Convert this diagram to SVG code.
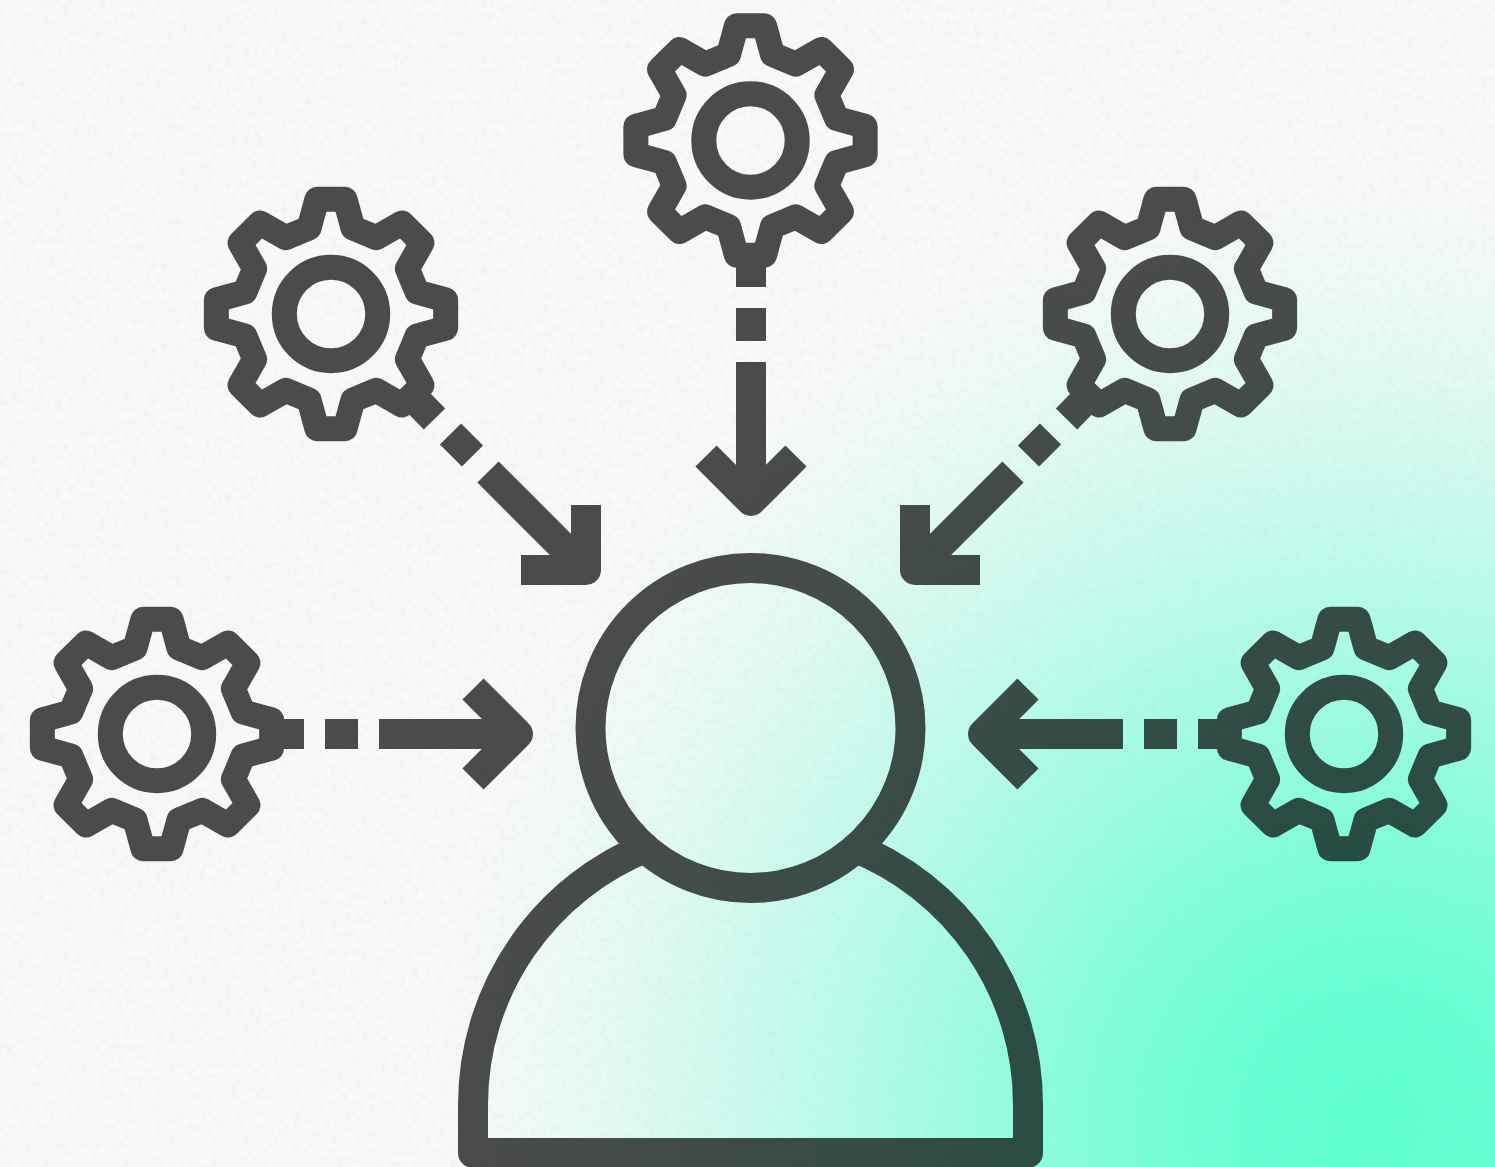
<svg xmlns="http://www.w3.org/2000/svg" width="1495" height="1167" viewBox="0 0 1495 1167">
<style>
.ink{fill:none;stroke:#000;stroke-width:25;stroke-linejoin:round}
.bar{fill:none;stroke:#000;stroke-width:30;stroke-linejoin:round}
</style>
<defs>
<radialGradient id="bg" gradientUnits="userSpaceOnUse" cx="1375" cy="1125" r="950">
<stop offset="0" stop-color="#5bffcf"/>
<stop offset=".12" stop-color="#62ffd2"/>
<stop offset=".3" stop-color="#80fdda"/>
<stop offset=".45" stop-color="#a0fce2"/>
<stop offset=".65" stop-color="#c8faed"/>
<stop offset=".8" stop-color="#e2faf3"/>
<stop offset=".93" stop-color="#f3f9f7"/>
<stop offset="1" stop-color="#f9f9f9"/>
</radialGradient>
<filter id="grain" x="0" y="0" width="100%" height="100%">
<feTurbulence type="fractalNoise" baseFrequency=".16" numOctaves="3" seed="7"/>
<feColorMatrix type="matrix" values="0 0 0 0 .6  0 0 0 0 .6  0 0 0 0 .6  1.1 0 0 0 -.47"/>
</filter>
<g id="gear">
<path class="ink" d="M-14.080-114.640L14.080-114.640 21.930-86.050 45.330-76.360 71.110-91.020 91.020-71.110 76.360-45.330 86.050-21.930 114.640-14.080 114.640 14.080 86.050 21.930 76.360 45.330 91.020 71.110 71.110 91.020 45.330 76.360 21.930 86.050 14.080 114.640-14.080 114.640-21.930 86.050-45.330 76.360-71.110 91.020-91.020 71.110-76.360 45.330-86.050 21.930-114.640 14.080-114.640-14.080-86.050-21.930-76.360-45.330-91.020-71.110-71.110-91.020-45.330-76.360-21.930-86.050Z"/>
<circle class="ink" cx="0" cy="0" r="46.700"/>
</g>
</defs>
<rect id="background" width="1495" height="1167" fill="url(#bg)"/>
<rect id="grain-layer" width="1495" height="1167" filter="url(#grain)" opacity=".3"/>
<g id="artwork" opacity=".7">
<g id="connectors">
<g id="arrow-top">
<path class="bar" d="M751 265V287M751 308V341M751 362V495"/>
<path class="bar" d="M706 456L751 501L796 456"/>
</g>
<g id="arrow-top-left">
<path class="bar" d="M412 396L434.500 419M450.500 434L472.500 456M488 472L575 559"/>
<path class="bar" d="M586 505V570H521"/>
</g>
<g id="arrow-top-right">
<path class="bar" d="M1089 396L1066.500 419M1050.500 434L1028.500 456M1013 472L926 559"/>
<path class="bar" d="M915 505V570H980"/>
</g>
<g id="arrow-left">
<path class="bar" d="M284 734H304M325 734H358M379 734H512"/>
<path class="bar" d="M473 689L518 734L473 779"/>
</g>
<g id="arrow-right">
<path class="bar" d="M1218 734H1198M1177 734H1144M1123 734H989"/>
<path class="bar" d="M1028 689L983 734L1028 779"/>
</g>
</g>
<g id="gear-top"><use href="#gear" x="750.500" y="140.500"/></g>
<g id="gear-top-left"><use href="#gear" x="331" y="314"/></g>
<g id="gear-top-right"><use href="#gear" x="1170" y="314"/></g>
<g id="gear-left"><use href="#gear" x="157" y="734"/></g>
<g id="gear-right"><use href="#gear" x="1344" y="734"/></g>
<g id="person">
<circle class="bar" cx="750.500" cy="728" r="160"/>
<path class="bar" d="M650 846A277.500 277.500 0 0 0 473 1105V1153H1028V1105A277.500 277.500 0 0 0 851 846"/>
</g>
</g>
</svg>
